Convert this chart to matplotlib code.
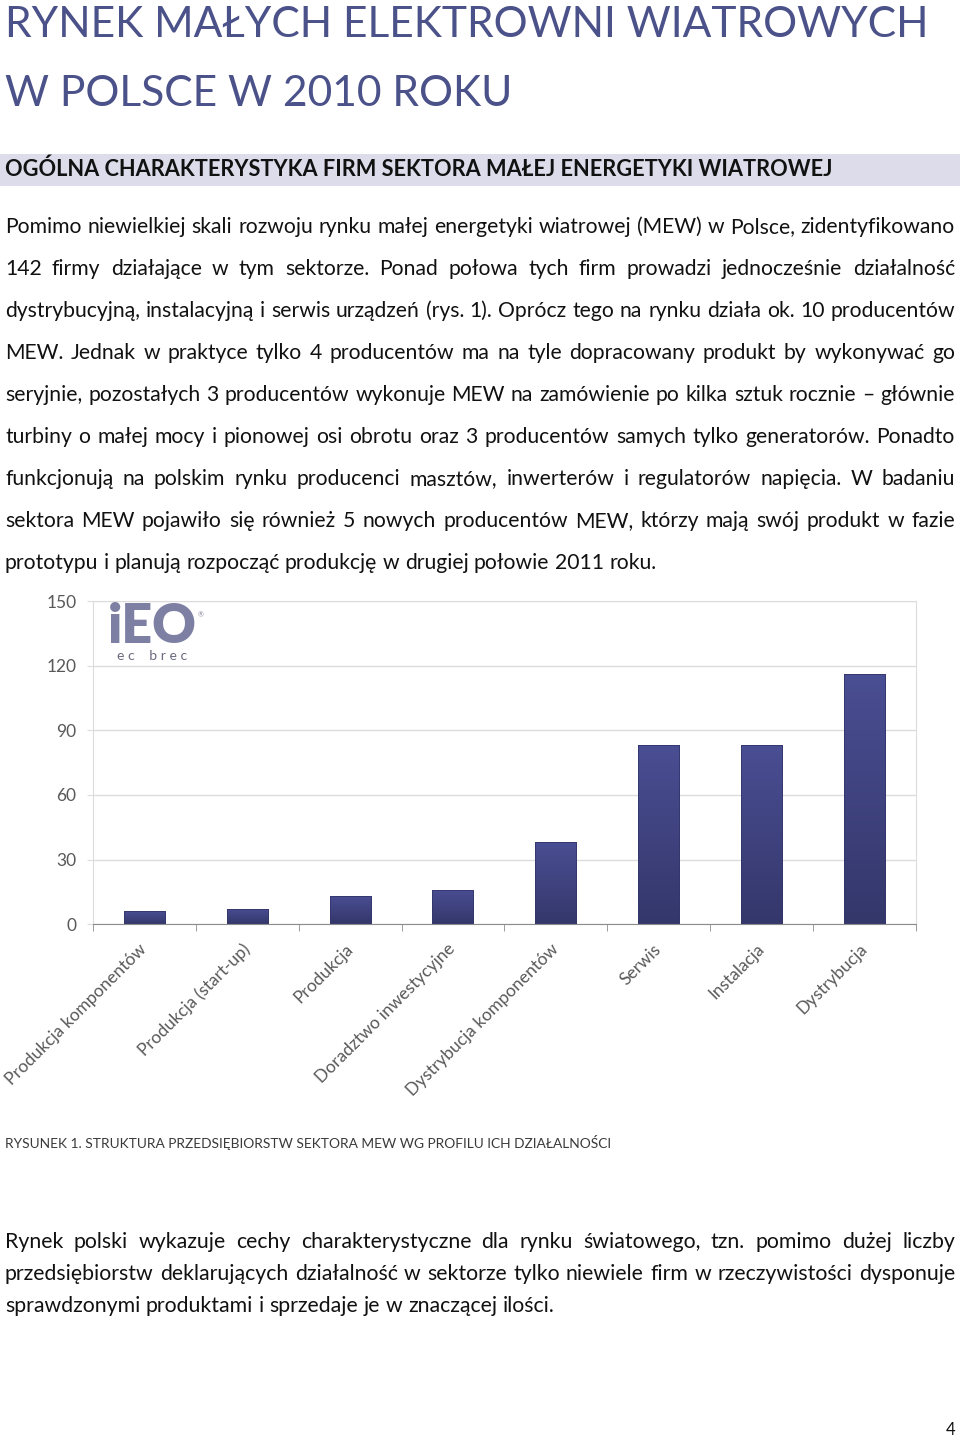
import numpy as np
import matplotlib
matplotlib.use("Agg")
import matplotlib.pyplot as plt
from matplotlib.colors import LinearSegmentedColormap

# ---------------------------------------------------------------------------
# Data
# ---------------------------------------------------------------------------
CATEGORIES = ["Produkcja komponentów", "Produkcja (start-up)", "Produkcja",
              "Doradztwo inwestycyjne", "Dystrybucja komponentów", "Serwis",
              "Instalacja", "Dystrybucja"]
COUNTS = [6, 7, 13, 16, 38, 83, 83, 116]
Y_TICKS = [0, 30, 60, 90, 120, 150]

TITLE_LINES = ["RYNEK MAŁYCH ELEKTROWNI WIATROWYCH", "W POLSCE W 2010 ROKU"]
HEADER = "OGÓLNA CHARAKTERYSTYKA FIRM SEKTORA MAŁEJ ENERGETYKI WIATROWEJ"
PARA1 = [
    "Pomimo niewielkiej skali rozwoju rynku małej energetyki wiatrowej (MEW) w Polsce, zidentyfikowano",
    "142 firmy działające w tym sektorze. Ponad połowa tych firm prowadzi jednocześnie działalność",
    "dystrybucyjną, instalacyjną i serwis urządzeń (rys. 1). Oprócz tego na rynku działa ok. 10 producentów",
    "MEW. Jednak w praktyce tylko 4 producentów ma na tyle dopracowany produkt by wykonywać go",
    "seryjnie, pozostałych 3 producentów wykonuje MEW na zamówienie po kilka sztuk rocznie – głównie",
    "turbiny o małej mocy i pionowej osi obrotu oraz 3 producentów samych tylko generatorów. Ponadto",
    "funkcjonują na polskim rynku producenci masztów, inwerterów i regulatorów napięcia. W badaniu",
    "sektora MEW pojawiło się również 5 nowych producentów MEW, którzy mają swój produkt w fazie",
    "prototypu i planują rozpocząć produkcję w drugiej połowie 2011 roku.",
]
CAPTION = "RYSUNEK 1. STRUKTURA PRZEDSIĘBIORSTW SEKTORA MEW WG PROFILU ICH DZIAŁALNOŚCI"
PARA2 = [
    "Rynek polski wykazuje cechy charakterystyczne dla rynku światowego, tzn. pomimo dużej liczby",
    "przedsiębiorstw deklarujących działalność w sektorze tylko niewiele firm w rzeczywistości dysponuje",
    "sprawdzonymi produktami i sprzedaje je w znaczącej ilości.",
]

W, H = 960, 1439
FONT = "Lato"
plt.rcParams["font.family"] = [FONT, "DejaVu Sans"]

fig = plt.figure(figsize=(W / 100, H / 100), dpi=100)
fig.patch.set_facecolor("white")
renderer = fig.canvas.get_renderer()


def fy(y):
    return 1 - y / H


def text_width(s, size, **kw):
    t = fig.text(0, 0, s, fontsize=size, **kw)
    w = t.get_window_extent(renderer).width
    t.remove()
    return w


def fit_size(s, width, **kw):
    return 20 * width / text_width(s, 20, **kw)


def fit_text(s, x0, x1, y, color, **kw):
    size = fit_size(s, x1 - x0, **kw)
    fig.text(x0 / W, fy(y), s, fontsize=size, color=color, va="baseline", **kw)


def put_line(line, y, size, justify, color, x0=5, x1=955):
    words = line.split()
    texts = [fig.text(0, fy(y), w, fontsize=size, color=color, va="baseline")
             for w in words]
    widths = [t.get_window_extent(renderer).width for t in texts]
    if justify and len(words) > 1:
        gap = (x1 - x0 - sum(widths)) / (len(words) - 1)
    else:
        gap = text_width("a a", size) - text_width("aa", size)
    x = x0
    for t, w in zip(texts, widths):
        t.set_x(x / W)
        x += w + gap


# ---------------------------------------------------------------------------
# Title, header band
# ---------------------------------------------------------------------------
title_col = "#4b5189"
fit_text(TITLE_LINES[0], 5, 927, 37, title_col)
size_t = fit_size(TITLE_LINES[0], 922)
fig.text(5 / W, fy(106), TITLE_LINES[1], fontsize=size_t, color=title_col, va="baseline")

fig.patches.append(plt.Rectangle((0, fy(186)), 1, 32 / H, transform=fig.transFigure,
                                 facecolor="#dcdcea", edgecolor="none"))
fit_text(HEADER, 5, 832, 176, "#111111", fontweight="bold")

# body paragraph 1
body_size = fit_size(PARA1[-1], 650)
for i, line in enumerate(PARA1):
    put_line(line, 233 + 42 * i, body_size, i < len(PARA1) - 1, "#111111")

# ---------------------------------------------------------------------------
# Chart
# ---------------------------------------------------------------------------
ax = fig.add_axes([93 / W, fy(924.3), (915.7 - 93) / W, (924.3 - 601) / H])
x = np.arange(len(CATEGORIES))
bars = ax.bar(x, COUNTS, width=0.4, color="none", edgecolor="#33366a",
              linewidth=0.6, zorder=3)
cmap = LinearSegmentedColormap.from_list("bar", ["#34376a", "#4a4e93"])
grad = np.linspace(0, 1, 256).reshape(-1, 1)
for b in bars:
    im = ax.imshow(grad, cmap=cmap, origin="lower", aspect="auto", zorder=2,
                   extent=[b.get_x(), b.get_x() + b.get_width(), 0, b.get_height()])
    im.set_clip_path(b)

ax.set_xlim(-0.5, len(CATEGORIES) - 0.5)
ax.set_ylim(0, 150)
ax.set_yticks(Y_TICKS)
ax.grid(axis="y", color="#dcdcdc", linewidth=1, zorder=0)
for s in ["left", "right", "top"]:
    ax.spines[s].set_color("#dcdcdc")
ax.spines["bottom"].set_color("#8c8c8c")
ax.spines["bottom"].set_zorder(4)
ax.tick_params(axis="y", length=4, color="#dcdcdc", labelsize=12.5,
               labelcolor="#595959", pad=8)
ax.set_xticks(x)
ax.set_xticklabels(CATEGORIES, rotation=45, ha="right", va="center",
                   rotation_mode="anchor", fontsize=12.5, color="#595959")
ax.tick_params(axis="x", which="major", length=0, pad=16)
ax.set_xticks(np.arange(-0.5, len(CATEGORIES)), minor=True)
ax.tick_params(axis="x", which="minor", length=5, color="#8c8c8c")

# logo
fit_text("iEO", 108, 197, 643, "#7e80a3", fontweight="heavy")
fig.text(198 / W, fy(617), "®", fontsize=5, color="#8a8aa0", va="baseline")
fit_text("e c    b r e c", 117, 187, 660, "#6a6a80")

# caption and paragraph 2
fit_text(CAPTION, 5, 612, 1148, "#3a3a3a")
body2 = fit_size(PARA2[-1], 547)
for i, line in enumerate(PARA2):
    put_line(line, 1248 + 32 * i, body2, i < len(PARA2) - 1, "#111111")

fig.text(955 / W, fy(1435), "4", fontsize=12, color="#111111", ha="right", va="baseline")

fig.savefig("out.png", dpi=100)
